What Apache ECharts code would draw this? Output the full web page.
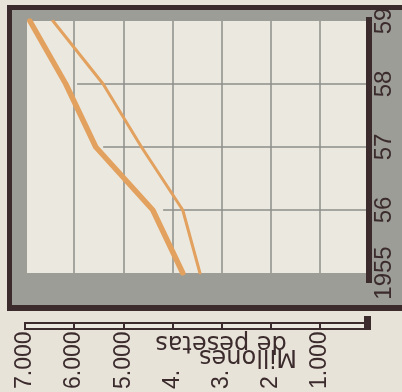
<!DOCTYPE html>
<html>
<head>
<meta charset="utf-8">
<script src="https://cdn.jsdelivr.net/npm/echarts@6/dist/echarts.min.js"></script>
<style>
html,body{margin:0;padding:0;background:#e8e3d8;}
#c{width:402px;height:392px;}
</style>
</head>
<body>
<div id="c"></div>
<script>
// ---- data ----
var years = [1955, 1956, 1957, 1958, 1959];
var thickSeries = [3790, 4400, 5560, 6170, 6900];   // upper (thick) orange line, millones de pesetas
var thinSeries  = [3440, 3790, 4630, 5410, 6430];   // lower (thin) orange line
var gridYears = [1956, 1957, 1958];                 // partial horizontal rules
var gridFrom  = [4190, 5410, 5940];                 // value where each rule starts
var scaleValues = [1000, 2000, 3000, 4000, 5000, 6000, 7000];
var scaleLabels = ['1.000', '2', '3.', '4.', '5.000', '6.000', '7.000'];
var yearLabels = {1955: '1955', 1956: '56', 1957: '57', 1958: '58', 1959: '59'};
var unitLines = ['Millones', 'de pesetas'];

var DARK = '#3b2b2d', GRAY = '#9c9d97', LIGHT = '#ebe8df', ORANGE = '#e2a15e', RULE = '#8e8f8a';

var chart = echarts.init(document.getElementById('c'), null, {renderer: 'canvas'});

var series = [];
gridYears.forEach(function (yr, i) {
  series.push({
    type: 'line', silent: true, symbol: 'none', z: 1,
    lineStyle: {color: RULE, width: 1.5},
    data: [[gridFrom[i], yr], [0, yr]]
  });
});
series.push({
  type: 'line', symbol: 'none', z: 3,
  lineStyle: {color: ORANGE, width: 5.5, cap: 'round', join: 'round'},
  data: years.map(function (y, i) { return [thickSeries[i], y]; })
});
series.push({
  type: 'line', symbol: 'none', z: 3,
  lineStyle: {color: ORANGE, width: 3, cap: 'round', join: 'round'},
  data: years.map(function (y, i) { return [thinSeries[i], y]; })
});

function labelFor(v) {
  var i = scaleValues.indexOf(v);
  return i >= 0 ? scaleLabels[i] : '';
}

var xBase = {type: 'value', inverse: true, min: 0, max: 7000, interval: 1000, gridIndex: 0};

chart.setOption({
  animation: false,
  backgroundColor: '#e8e3d8',
  grid: {left: 25, right: 33, top: 21, bottom: 119, containLabel: false},
  xAxis: [
    Object.assign({}, xBase, {
      axisLine: {show: false}, axisTick: {show: false}, axisLabel: {show: false},
      splitLine: {show: true, showMinLine: false, showMaxLine: false, lineStyle: {color: RULE, width: 1.5}}
    }),
    Object.assign({}, xBase, {
      position: 'bottom', offset: 52.5, z: 1,
      axisLine: {show: true, lineStyle: {color: DARK, width: 8, cap: 'butt'}},
      axisTick: {show: false}, axisLabel: {show: false}, splitLine: {show: false}
    }),
    Object.assign({}, xBase, {
      position: 'bottom', offset: 52.5, z: 2,
      axisLine: {show: true, lineStyle: {color: LIGHT, width: 4}},
      axisTick: {show: false}, axisLabel: {show: false}, splitLine: {show: false}
    }),
    Object.assign({}, xBase, {
      position: 'bottom', offset: 57, z: 3,
      axisLine: {show: false},
      axisTick: {show: true, inside: true, length: 8, lineStyle: {color: DARK, width: 2}},
      axisLabel: {
        show: true, rotate: 90, align: 'left', margin: 59,
        fontFamily: 'Liberation Sans', fontSize: 23, color: DARK,
        formatter: function (v) { return labelFor(v); }
      },
      splitLine: {show: false}
    })
  ],
  yAxis: {
    type: 'value', min: 1955, max: 1959, interval: 1, position: 'right',
    axisLine: {show: true, onZero: false, lineStyle: {color: DARK, width: 6}},
    axisTick: {show: false},
    splitLine: {show: false},
    axisLabel: {
      show: true, rotate: 90, margin: 3,
      fontFamily: 'Liberation Sans', fontSize: 24, color: DARK,
      formatter: function (v) { return yearLabels[v] || ''; }
    }
  },
  graphic: [
    {type: 'rect', z: -30, silent: true, shape: {x: 7, y: 5, width: 420, height: 306}, style: {fill: DARK}},
    {type: 'rect', z: -29, silent: true, shape: {x: 12, y: 10, width: 420, height: 295}, style: {fill: GRAY}},
    {type: 'rect', z: -28, silent: true, shape: {x: 27, y: 21, width: 340, height: 252}, style: {fill: LIGHT}},
    {type: 'rect', z: 5, silent: true, shape: {x: 366, y: 17, width: 6, height: 266}, style: {fill: DARK}},
    {type: 'rect', z: 5, silent: true, shape: {x: 364, y: 316, width: 7, height: 14}, style: {fill: DARK}},
    {type: 'text', z: 5, silent: true, x: 248, y: 356, rotation: Math.PI,
      style: {text: unitLines[0], font: '24px "DejaVu Sans"', fill: DARK, align: 'center', verticalAlign: 'middle', textAlign: 'center', textVerticalAlign: 'middle'}},
    {type: 'text', z: 5, silent: true, x: 221, y: 342, rotation: Math.PI,
      style: {text: unitLines[1], font: '24px "DejaVu Sans"', fill: DARK, align: 'center', verticalAlign: 'middle', textAlign: 'center', textVerticalAlign: 'middle'}}
  ],
  series: series
});
</script>
</body>
</html>
